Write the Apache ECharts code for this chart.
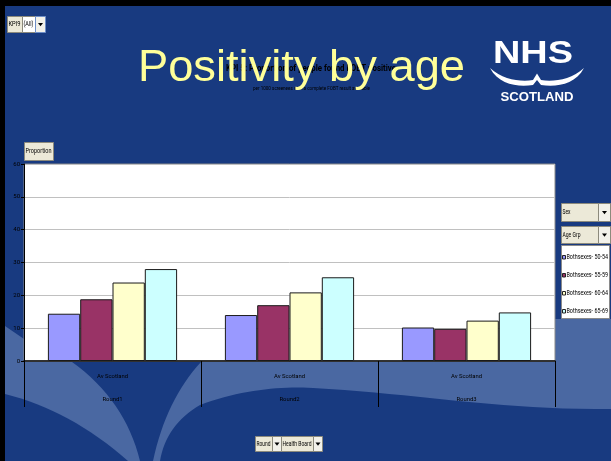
<!DOCTYPE html>
<html><head><meta charset="utf-8">
<script src="https://cdn.jsdelivr.net/npm/echarts@6/dist/echarts.min.js"></script>
<style>html,body{margin:0;padding:0;background:#183A80;}#c{width:611px;height:461px;}</style>
</head><body><div id="c"></div>
<script>
// ---- data ----
const categories = ['Round1', 'Round2', 'Round3'];
const categoryGroup = ['Av Scotland', 'Av Scotland', 'Av Scotland'];
const seriesNames = ['Bothsexes- 50-54', 'Bothsexes- 55-59', 'Bothsexes- 60-64', 'Bothsexes- 65-69'];
const age50_54 = [14.4, 14.0, 10.2];
const age55_59 = [18.8, 17.0, 9.8];
const age60_64 = [23.9, 20.9, 12.3];
const age65_69 = [28.0, 25.5, 14.8];
const yMin = 0, yMax = 60, yStep = 10;

// ---- style ----
const NARROW = 'Roboto,"DejaVu Sans Condensed",sans-serif';
const SANS = '"Liberation Sans",Arial,sans-serif';
const colors = ['#9999FF', '#993366', '#FFFFCC', '#CCFFFF'];
const DARK = '#183A80', LIGHT = '#4A68A2';

const mctx = document.createElement('canvas').getContext('2d');
function mw(text, font) { mctx.font = font; return mctx.measureText(text).width; }
function fitScale(text, font, w) { return w / mw(text, font); }

function Q(p0, c, p1, n) { const o = []; n = n || 16;
  for (let i = 0; i <= n; i++) { const t = i / n, a = (1 - t) * (1 - t), b = 2 * (1 - t) * t, d = t * t;
    o.push([a * p0[0] + b * c[0] + d * p1[0], a * p0[1] + b * c[1] + d * p1[1]]); } return o; }
function C(p0, c1, c2, p1, n) { const o = []; n = n || 20;
  for (let i = 0; i <= n; i++) { const t = i / n, u = 1 - t;
    o.push([u*u*u*p0[0] + 3*u*u*t*c1[0] + 3*u*t*t*c2[0] + t*t*t*p1[0], u*u*u*p0[1] + 3*u*u*t*c1[1] + 3*u*t*t*c2[1] + t*t*t*p1[1]]); } return o; }

function txt(x, y, text, font, fill, align, scaleX, z) {
  return { type: 'text', x: x, y: y, scaleX: scaleX || 1, z: z || 10,
    style: { text: text, font: font, fill: fill, textAlign: align || 'left', textVerticalAlign: 'middle',
      align: align || 'left', verticalAlign: 'middle' } };
}
function rect(x, y, w, h, fill, stroke, z) {
  return { type: 'rect', z: z || 10, shape: { x: x, y: y, width: w, height: h },
    style: { fill: fill, stroke: stroke || null, lineWidth: 1 } };
}
function poly(points, fill, z) { return { type: 'polygon', z: z, shape: { points: points }, style: { fill: fill } }; }
const BF = '6.5px ' + NARROW;
function button(x, y, w, h, label, fill, tw) {
  return [rect(x + 0.5, y + 0.5, w, h, fill || '#ECE9D8', '#8C8A7C'),
    txt(x + 1.5, y + h / 2 + 0.5, label, BF, '#000', 'left', Math.min(1, fitScale(label, BF, tw || (w - 3))), 11)];
}
function arrowBtn(x, y, w, h, stroke) {
  const cx = x + w / 2 + 0.5, cy = y + h / 2 + 0.5;
  return [rect(x + 0.5, y + 0.5, w, h, '#F2F1EA', stroke || '#8C8A7C'),
    poly([[cx - 2.5, cy - 1.5], [cx + 2.5, cy - 1.5], [cx, cy + 1.8]], '#000', 11)];
}

const titleFont = '45px ' + SANS;
const kpiFont = 'bold 9px ' + NARROW;
const kpiText = 'KPI 5: Proportion of people found FOBT positive';
const subFont = '6px ' + NARROW;
const subText = 'per 1000 screenees with a complete FOBT result available';
const nhsFont = 'bold 31px ' + SANS;
const scotFont = 'bold 13.5px ' + SANS;

const decoBL = [[5, 394]].concat(Q([5, 394], [70, 410], [128, 461]), [[5, 461]]);
const decoV = [[72, 362], [201, 362]].concat(Q([201, 362], [166, 400], [153, 461]), Q([140, 461], [125, 400], [72, 362]));
const decoWave = Q([160, 461], [166, 425], [200, 405]).concat(C([200, 405], [240, 390], [280, 386], [313, 388]),
  C([313, 388], [420, 394], [500, 410], [611, 409]), [[611, 461]]);
const swoosh = C([490, 68], [503, 80], [520, 82], [533, 80], 10).concat([[537, 73.5]], C([541, 80], [554, 82], [571, 80], [584, 68], 10),
  C([584, 68], [575, 85], [556, 87], [541, 85], 10), [[537, 80]], C([533, 85], [518, 87], [499, 85], [490, 68], 10));

// legend (compressed text like the reference), built from the series names and colours
const LF = '7px ' + NARROW;
const legendEls = [rect(561.5, 245.5, 48, 73, '#FFFFFF', '#8A8A8A', 10)];
seriesNames.forEach(function (n, i) {
  const y = 257 + i * 18;
  legendEls.push(rect(562.5, y - 1.5, 3, 3.5, colors[i], '#222', 11));
  legendEls.push(txt(566.5, y, n, LF, '#000', 'left', fitScale(n, LF, 41.5), 11));
});

const graphics = [
  poly([[5, 326], [24, 339], [555, 339], [555, 319], [611, 319], [611, 461], [5, 461]], LIGHT, -5),
  poly(decoBL, DARK, -4),
  poly(decoV, DARK, -4),
  poly(decoWave, DARK, -4),
  rect(0, 0, 611, 6, '#000', null, 20),
  rect(0, 0, 5, 461, '#000', null, 20),
  txt(226, 69, kpiText, kpiFont, '#000', 'left', fitScale(kpiText, kpiFont, 170), 9),
  txt(253, 88, subText, subFont, '#000', 'left', fitScale(subText, subFont, 117), 9),
  txt(138, 69, 'Positivity by age', titleFont, '#FFFF99', 'left', fitScale('Positivity by age', titleFont, 327), 12),
  txt(533, 54, 'NHS', nhsFont, '#fff', 'center', fitScale('NHS', nhsFont, 80), 12),
  poly(swoosh, '#fff', 12),
  txt(537, 97, 'SCOTLAND', scotFont, '#fff', 'center', fitScale('SCOTLAND', scotFont, 73), 12),
  ...button(7, 16, 15, 16, 'KPI9'),
  ...button(22, 16, 13, 16, '(All)', '#FFFFFF'),
  ...arrowBtn(35, 16, 10, 16, '#6F8FC8'),
  ...button(24, 142, 29, 18, 'Proportion', null, 26),
  ...button(561, 203, 37, 18, 'Sex', null, 8),
  ...arrowBtn(598, 203, 12, 18),
  ...button(561, 226, 37, 17, 'Age Grp', null, 18),
  ...arrowBtn(598, 226, 12, 17),
  ...button(255, 436, 17, 15, 'Round'),
  ...arrowBtn(272, 436, 9, 15),
  ...button(281, 436, 32, 15, 'Health Board'),
  ...arrowBtn(313, 436, 9, 15),
  ...legendEls
];

const chart = echarts.init(document.getElementById('c'), null, { renderer: 'canvas' });
chart.setOption({
  backgroundColor: DARK,
  animation: false,
  grid: { left: 24, right: 56, top: 164, bottom: 100, show: true, backgroundColor: '#FFFFFF', borderColor: '#8A8A8A', borderWidth: 1 },
  xAxis: {
    type: 'category', data: categories,
    axisLine: { lineStyle: { color: '#000', width: 1.5 } },
    axisTick: { show: true, length: 46, interval: 0, lineStyle: { color: '#000', width: 1 } },
    axisLabel: { interval: 0, margin: 4.5, fontFamily: NARROW, fontSize: 5.9, color: '#000', lineHeight: 23,
      formatter: function (v, i) { return categoryGroup[i] + '\n' + v; } }
  },
  yAxis: {
    type: 'value', min: yMin, max: yMax, interval: yStep,
    axisLine: { show: true, lineStyle: { color: '#000', width: 1 } },
    axisTick: { show: true, length: 3, lineStyle: { color: '#000' } },
    axisLabel: { margin: 4, fontFamily: NARROW, fontSize: 6, color: '#000' },
    splitLine: { lineStyle: { color: '#C0C0C0', width: 1 } }
  },
  series: [age50_54, age55_59, age60_64, age65_69].map(function (d, i) {
    return { name: seriesNames[i], type: 'bar', data: d, barGap: '0%', barCategoryGap: '27%',
      itemStyle: { color: colors[i], borderColor: '#1A1A1A', borderWidth: 1 },
      emphasis: { disabled: true } };
  }),
  graphic: { elements: graphics }
});
</script>
</body></html>
